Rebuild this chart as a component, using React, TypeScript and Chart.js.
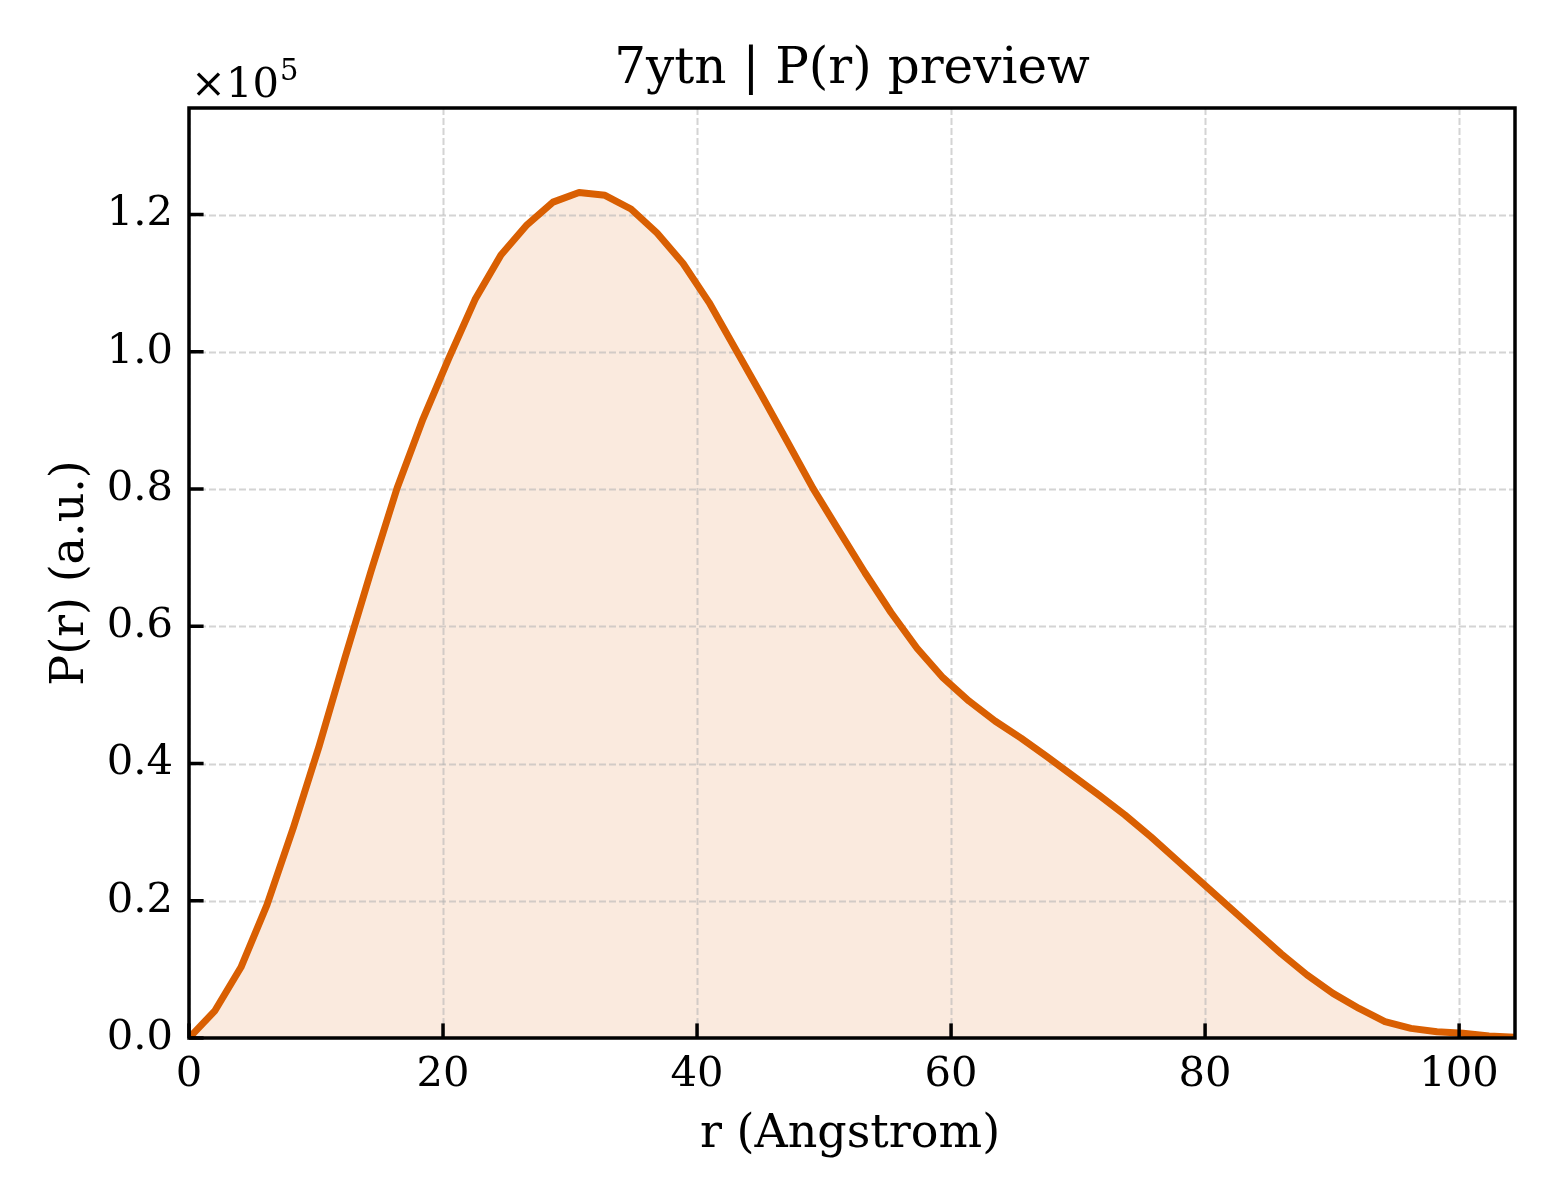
import React, { useEffect, useRef } from "react";
import { Chart, registerables } from "chart.js";

Chart.register(...registerables);

// r (Angstrom)
const rValues = [
  0, 2.05, 4.09, 6.14, 8.19, 10.24, 12.28, 14.33, 16.38, 18.42, 20.47, 22.52, 24.56,
  26.61, 28.66, 30.71, 32.75, 34.8, 36.85, 38.89, 40.94, 42.99, 45.04, 47.08, 49.13,
  51.18, 53.22, 55.27, 57.32, 59.36, 61.41, 63.46, 65.51, 67.55, 69.6, 71.65, 73.69,
  75.74, 77.79, 79.84, 81.88, 83.93, 85.98, 88.02, 90.07, 92.12, 94.16, 96.21, 98.26,
  100.31, 102.35, 104.4,
];

// P(r) (a.u.)
const prValues = [
  0, 4000, 10300, 19400, 30500, 42500, 55400, 68000, 80100, 90200, 99100, 107600,
  114100, 118500, 121800, 123200, 122800, 120800, 117300, 112900, 107200, 100500,
  93800, 87000, 80100, 73900, 67800, 62000, 56800, 52500, 49100, 46200, 43700, 41000,
  38200, 35400, 32500, 29300, 25900, 22500, 19100, 15700, 12300, 9200, 6500, 4300,
  2400, 1400, 900, 700, 300, 100,
];

const xTickValues = [0, 20, 40, 60, 80, 100];
const yTickValues = [0, 20000, 40000, 60000, 80000, 100000, 120000];
const X_MAX = 104.4;
const Y_MAX = 135520;
const Y_EXPONENT = 5;

const TITLE = "7ytn | P(r) preview";
const X_LABEL = "r (Angstrom)";
const Y_LABEL = "P(r) (a.u.)";

const FONT = '"DejaVu Serif", serif';
const LINE_COLOR = "#d95f02";
const FILL_COLOR = "rgba(217,95,2,0.13)";

export default function App() {
  const ref = useRef<HTMLCanvasElement | null>(null);

  useEffect(() => {
    document.body.style.margin = "0";
    const canvas = ref.current;
    if (!canvas) return;

    const decor = {
      id: "decor",
      afterDatasetDraw(chart: any, args: any) {
        if (args.index !== 0) return;
        const { ctx, chartArea } = chart;
        const xs = chart.scales.x;
        const ys = chart.scales.y;
        ctx.save();
        ctx.beginPath();
        ctx.rect(chartArea.left, chartArea.top, chartArea.right - chartArea.left, chartArea.bottom - chartArea.top);
        ctx.clip();
        ctx.strokeStyle = "rgba(176,176,176,0.55)";
        ctx.lineWidth = 2;
        ctx.setLineDash([7, 3]);
        for (const v of xTickValues) {
          const px = Math.round(xs.getPixelForValue(v)) + 0.5;
          ctx.beginPath();
          ctx.moveTo(px, chartArea.top);
          ctx.lineTo(px, chartArea.bottom);
          ctx.stroke();
        }
        for (const v of yTickValues) {
          const py = Math.round(ys.getPixelForValue(v)) + 0.5;
          ctx.beginPath();
          ctx.moveTo(chartArea.left, py);
          ctx.lineTo(chartArea.right, py);
          ctx.stroke();
        }
        ctx.restore();
      },
      afterDraw(chart: any) {
        const { ctx, chartArea } = chart;
        const xs = chart.scales.x;
        const ys = chart.scales.y;
        const { left, right, top, bottom } = chartArea;
        ctx.save();
        ctx.strokeStyle = "#000";
        ctx.lineWidth = 3.5;
        ctx.setLineDash([]);
        // inward ticks
        for (const v of xTickValues) {
          const px = xs.getPixelForValue(v);
          ctx.beginPath();
          ctx.moveTo(px, bottom);
          ctx.lineTo(px, bottom - 14.6);
          ctx.stroke();
        }
        for (const v of yTickValues) {
          const py = ys.getPixelForValue(v);
          ctx.beginPath();
          ctx.moveTo(left, py);
          ctx.lineTo(left + 14.6, py);
          ctx.stroke();
        }
        // spines
        ctx.strokeRect(left, top, right - left, bottom - top);

        ctx.fillStyle = "#000";
        ctx.textBaseline = "alphabetic";
        // title
        ctx.font = `50px ${FONT}`;
        ctx.textAlign = "center";
        ctx.fillText(TITLE, (left + right) / 2, 83);
        // x label
        ctx.font = `46px ${FONT}`;
        ctx.fillText(X_LABEL, (left + right) / 2 - 2, 1147);
        // y label
        ctx.save();
        ctx.translate(83, (top + bottom) / 2);
        ctx.rotate(-Math.PI / 2);
        ctx.fillText(Y_LABEL, 0, 0);
        ctx.restore();
        // offset text
        ctx.textAlign = "left";
        ctx.font = `41.67px ${FONT}`;
        const base = "\u00d710";
        ctx.fillText(base, 191, 97);
        const w = ctx.measureText(base).width;
        ctx.font = `29px ${FONT}`;
        ctx.fillText(String(Y_EXPONENT), 191 + w + 1, 80);
        ctx.restore();
      },
    };

    const chart = new Chart(canvas, {
      type: "line",
      data: {
        datasets: [
          {
            data: rValues.map((r, i) => ({ x: r, y: prValues[i] })),
            borderWidth: 0,
            borderColor: "rgba(0,0,0,0)",
            backgroundColor: FILL_COLOR,
            fill: "origin",
            pointRadius: 0,
            tension: 0,
            order: 1,
          },
          {
            data: rValues.map((r, i) => ({ x: r, y: prValues[i] })),
            borderWidth: 7,
            borderColor: LINE_COLOR,
            borderJoinStyle: "round",
            borderCapStyle: "butt",
            fill: false,
            pointRadius: 0,
            tension: 0,
            order: 0,
          },
        ],
      },
      options: {
        responsive: false,
        devicePixelRatio: 1,
        animation: false,
        events: [],
        layout: { padding: { top: 108, right: 45, left: 0, bottom: 0 } },
        plugins: {
          legend: { display: false },
          tooltip: { enabled: false },
          title: { display: false },
        },
        scales: {
          x: {
            type: "linear",
            min: 0,
            max: X_MAX,
            afterBuildTicks: (s: any) => {
              s.ticks = xTickValues.map((v) => ({ value: v }));
            },
            afterFit: (s: any) => {
              s.height = 162;
            },
            grid: { display: false, drawTicks: false },
            border: { display: false },
            ticks: {
              font: { family: FONT, size: 41.67 },
              color: "#000",
              padding: 12,
              maxRotation: 0,
              autoSkip: false,
              callback: (v: any) => String(v),
            },
          },
          y: {
            type: "linear",
            min: 0,
            max: Y_MAX,
            afterBuildTicks: (s: any) => {
              s.ticks = yTickValues.map((v) => ({ value: v }));
            },
            afterFit: (s: any) => {
              s.width = 189;
            },
            grid: { display: false, drawTicks: false },
            border: { display: false },
            ticks: {
              font: { family: FONT, size: 41.67 },
              color: "#000",
              padding: 16,
              autoSkip: false,
              callback: (v: any) => (Number(v) / Math.pow(10, Y_EXPONENT)).toFixed(1),
            },
          },
        },
      },
      plugins: [decor],
    } as any);

    return () => chart.destroy();
  }, []);

  return (
    <canvas
      ref={ref}
      width={1560}
      height={1200}
      style={{ display: "block", width: 1560, height: 1200 }}
    />
  );
}
